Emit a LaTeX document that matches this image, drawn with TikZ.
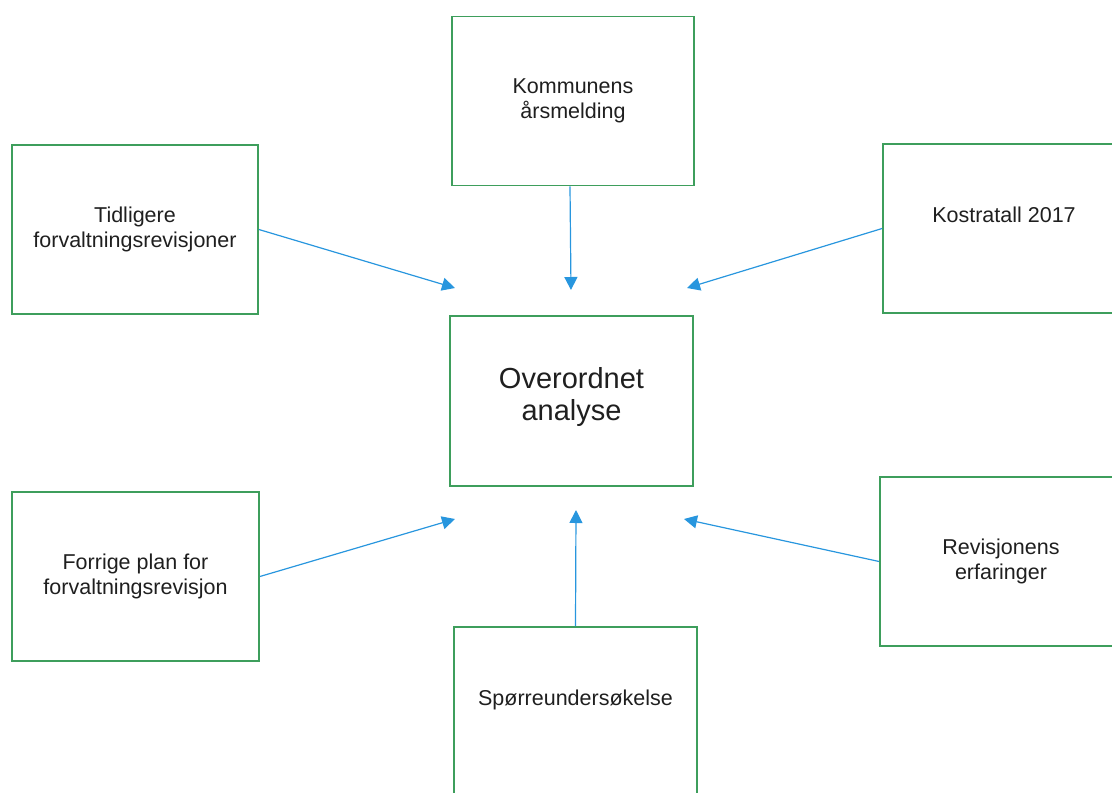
\documentclass[tikz,border=0pt]{standalone}
\usepackage{fontspec}
\setmainfont{Liberation Sans}
\usetikzlibrary{arrows.meta}
\definecolor{boxgreen}{RGB}{62,158,92}
\definecolor{arrblue}{RGB}{40,150,222}
\begin{document}
\begin{tikzpicture}[x=1pt,y=-1pt,
  box/.style={draw=boxgreen, line width=1.8pt, minimum width=242pt, minimum height=169pt, inner sep=0pt, align=center, font=\fontsize{21.5}{25}\selectfont, text=black!88},
  txt/.style={inner sep=0pt, align=center, font=\fontsize{21.5}{25}\selectfont, text=black!88},
  arr/.style={draw=arrblue, line width=1.2pt, -{Triangle[length=13pt,width=13pt]}}]
\useasboundingbox (0,0) rectangle (1112,793);
\clip (0,0) rectangle (1112,793);
\node[box] (kom) at (573,101) {Kommunens\\årsmelding};
\node[box, minimum width=246pt] (tid) at (135,229.5) {Tidligere\\forvaltningsrevisjoner};
\node[box] (kos) at (1004,228.5) {};
\node[txt] (kost) at (1004,215) {Kostratall 2017};
\node[box, minimum width=243pt, minimum height=170pt, text depth=14pt, font=\fontsize{29}{32}\selectfont] (ove) at (571.5,401) {Overordnet\\analyse};
\node[box, minimum width=247pt] (for) at (135.5,576.5) {Forrige plan for\\forvaltningsrevisjon};
\node[box] (rev) at (1001,561.5) {Revisjonens\\erfaringer};
\node[box, minimum width=243pt, minimum height=170pt] (spo) at (575.5,712) {};
\node[txt] (spot) at (575.5,700) {Spørreundersøkelse};
\coordinate (tTop) at (571,290);
\coordinate (tTL) at (455,288);
\coordinate (tTR) at (687,288);
\coordinate (tBL) at (455,519);
\coordinate (tBot) at (576,510);
\coordinate (tBR) at (684,519);
\draw[arr] (kom.south -| 570,0) -- (tTop);
\draw[arr] (tid.east) -- (tTL);
\draw[arr] (kos.west) -- (tTR);
\draw[arr] (for.east) -- (tBL);
\draw[arr] (spo.north) -- (tBot);
\draw[arr] (rev.west) -- (tBR);
\end{tikzpicture}
\end{document}
